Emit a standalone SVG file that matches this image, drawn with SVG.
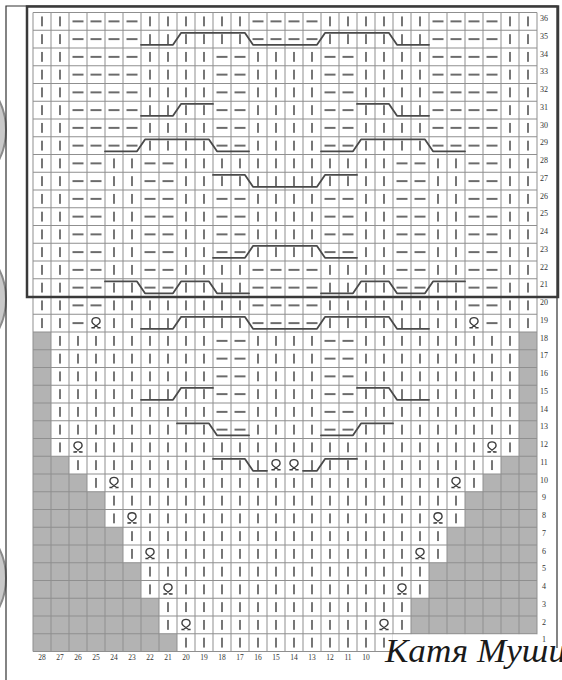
<svg xmlns="http://www.w3.org/2000/svg" width="562" height="680" viewBox="0 0 562 680">
<style>
.grid{fill:none;stroke:#8f8f8f;stroke-width:1}
.grey{fill:#b3b3b3}
.cable{fill:none;stroke:#4a4a4a;stroke-width:1.8;stroke-linejoin:round;stroke-linecap:round}
.sym{fill:none;stroke:#3c3c3c;stroke-width:1.3}
.rn{font-family:"Liberation Serif","DejaVu Serif",serif;font-size:8px;fill:#333;text-anchor:middle}
.cn{font-family:"Liberation Serif","DejaVu Serif",serif;font-size:7.5px;fill:#333;text-anchor:middle}
.hole{fill:#c9c9c9;stroke:#8a8a8a;stroke-width:2}
.border{fill:none;stroke:#333;stroke-width:1.2}
</style>
<defs>
<pattern id="knit" patternUnits="userSpaceOnUse" x="33" y="12.5" width="18" height="17.75">
<rect width="18" height="17.75" fill="#fff"/>
<line x1="9" y1="4" x2="9" y2="13.75" stroke="#3c3c3c" stroke-width="1.4"/>
</pattern>
<pattern id="purl" patternUnits="userSpaceOnUse" x="33" y="12.5" width="18" height="17.75">
<rect width="18" height="17.75" fill="#fff"/>
<line x1="3.5" y1="8.875" x2="14.5" y2="8.875" stroke="#3c3c3c" stroke-width="1.5"/>
</pattern>
<g id="tw">
<rect x="-8.5" y="-8.4" width="17" height="16.8" fill="#fff"/>
<path class="sym" d="M-2.2,1.2 C-5.2,-0.8 -4.6,-5.6 0,-5.6 C4.6,-5.6 5.2,-0.8 2.2,1.2 M-2.2,1.2 L2.6,4.6 M2.2,1.2 L-2.6,4.6 M-4.6,4.6 H-1.2 M1.2,4.6 H4.6"/>
</g>
</defs>
<rect width="562" height="680" fill="#fff"/>
<g id="binder-holes">
<circle class="hole" cx="-60" cy="130" r="66"/>
<circle class="hole" cx="-60" cy="299" r="66"/>
<circle class="hole" cx="-60" cy="578" r="66"/>
</g>
<g id="chart">
<rect x="33" y="12.5" width="504" height="639" fill="url(#knit)"/>
<g id="purls" fill="url(#purl)">
<rect x="69" y="12.5" width="18" height="319.5"/>
<rect x="87" y="12.5" width="18" height="301.75"/>
<rect x="105" y="12.5" width="36" height="142"/>
<rect x="483" y="12.5" width="18" height="319.5"/>
<rect x="465" y="12.5" width="18" height="301.75"/>
<rect x="429" y="12.5" width="36" height="142"/>
<rect x="141" y="154.5" width="36" height="142"/>
<rect x="393" y="154.5" width="36" height="142"/>
<rect x="213" y="48" width="36" height="106.5"/>
<rect x="213" y="190" width="36" height="71"/>
<rect x="213" y="332" width="36" height="106.5"/>
<rect x="321" y="48" width="36" height="106.5"/>
<rect x="321" y="190" width="36" height="71"/>
<rect x="321" y="332" width="36" height="106.5"/>
<rect x="249" y="12.5" width="72" height="35.5"/>
<rect x="249" y="261" width="72" height="71"/>
</g>
<g id="no-stitch">
<polygon class="grey" points="33,332 51,332 51,456.25 69,456.25 69,474 87,474 87,491.75 105,491.75 105,527.25 123,527.25 123,562.75 141,562.75 141,598.25 159,598.25 159,633.75 177,633.75 177,651.5 33,651.5"/>
<polygon class="grey" points="537,332 519,332 519,456.25 501,456.25 501,474 483,474 483,491.75 465,491.75 465,527.25 447,527.25 447,562.75 429,562.75 429,598.25 411,598.25 411,633.75 393,633.75 393,651.5 537,651.5"/>
</g>
<g id="twisted">
<use href="#tw" x="96" y="323.125"/><use href="#tw" x="474" y="323.125"/>
<use href="#tw" x="78" y="447.375"/><use href="#tw" x="492" y="447.375"/>
<use href="#tw" x="276" y="465.125"/><use href="#tw" x="294" y="465.125"/>
<use href="#tw" x="114" y="482.875"/><use href="#tw" x="456" y="482.875"/>
<use href="#tw" x="132" y="518.375"/><use href="#tw" x="438" y="518.375"/>
<use href="#tw" x="150" y="553.875"/><use href="#tw" x="420" y="553.875"/>
<use href="#tw" x="168" y="589.375"/><use href="#tw" x="402" y="589.375"/>
<use href="#tw" x="186" y="624.875"/><use href="#tw" x="384" y="624.875"/>
</g>
<path class="grid" d="M33 12.5V651.5M51 12.5V651.5M69 12.5V651.5M87 12.5V651.5M105 12.5V651.5M123 12.5V651.5M141 12.5V651.5M159 12.5V651.5M177 12.5V651.5M195 12.5V651.5M213 12.5V651.5M231 12.5V651.5M249 12.5V651.5M267 12.5V651.5M285 12.5V651.5M303 12.5V651.5M321 12.5V651.5M339 12.5V651.5M357 12.5V651.5M375 12.5V651.5M393 12.5V651.5M411 12.5V651.5M429 12.5V651.5M447 12.5V651.5M465 12.5V651.5M483 12.5V651.5M501 12.5V651.5M519 12.5V651.5M537 12.5V651.5M33 12.5H537M33 30.25H537M33 48H537M33 65.75H537M33 83.5H537M33 101.25H537M33 119H537M33 136.75H537M33 154.5H537M33 172.25H537M33 190H537M33 207.75H537M33 225.5H537M33 243.25H537M33 261H537M33 278.75H537M33 296.5H537M33 314.25H537M33 332H537M33 349.75H537M33 367.5H537M33 385.25H537M33 403H537M33 420.75H537M33 438.5H537M33 456.25H537M33 474H537M33 491.75H537M33 509.5H537M33 527.25H537M33 545H537M33 562.75H537M33 580.5H537M33 598.25H537M33 616H537M33 633.75H537M33 651.5H537"/>
</g>
<g id="cables">
<polyline class="cable" points="141,44.85 173,44.85 181,32.95 245,32.95 253,44.85 317,44.85 325,32.95 389,32.95 397,44.85 429,44.85"/>
<polyline class="cable" points="141,115.85 173,115.85 181,103.95 213,103.95"/>
<polyline class="cable" points="357,103.95 389,103.95 397,115.85 429,115.85"/>
<polyline class="cable" points="105,151.35 137,151.35 145,139.45 209,139.45 217,151.35 249,151.35"/>
<polyline class="cable" points="321,151.35 353,151.35 361,139.45 425,139.45 433,151.35 465,151.35"/>
<polyline class="cable" points="213,174.95 245,174.95 253,186.85 317,186.85 325,174.95 357,174.95"/>
<polyline class="cable" points="213,257.85 245,257.85 253,245.95 317,245.95 325,257.85 357,257.85"/>
<polyline class="cable" points="105,281.45 137,281.45 145,293.35 173,293.35 181,281.45 209,281.45 217,293.35 249,293.35"/>
<polyline class="cable" points="321,293.35 353,293.35 361,281.45 389,281.45 397,293.35 425,293.35 433,281.45 465,281.45"/>
<polyline class="cable" points="141,328.85 173,328.85 181,316.95 245,316.95 253,328.85 317,328.85 325,316.95 389,316.95 397,328.85 429,328.85"/>
<polyline class="cable" points="141,399.85 173,399.85 181,387.95 213,387.95"/>
<polyline class="cable" points="357,387.95 389,387.95 397,399.85 429,399.85"/>
<polyline class="cable" points="177,423.45 209,423.45 217,435.35 249,435.35"/>
<polyline class="cable" points="321,435.35 353,435.35 361,423.45 393,423.45"/>
<polyline class="cable" points="213,458.95 245,458.95 253,470.85 267,470.85"/>
<polyline class="cable" points="303,470.85 317,470.85 325,458.95 357,458.95"/>
</g>
<g id="borders">
<path class="border" d="M6 680V6H557V648"/>
<rect x="27" y="6.5" width="531" height="290.5" fill="none" stroke="#3a3a3a" stroke-width="2.5"/>
</g>
<g id="row-numbers">
<text class="rn" x="544" y="21">36</text>
<text class="rn" x="544" y="38.75">35</text>
<text class="rn" x="544" y="56.5">34</text>
<text class="rn" x="544" y="74.25">33</text>
<text class="rn" x="544" y="92">32</text>
<text class="rn" x="544" y="109.75">31</text>
<text class="rn" x="544" y="127.5">30</text>
<text class="rn" x="544" y="145.25">29</text>
<text class="rn" x="544" y="163">28</text>
<text class="rn" x="544" y="180.75">27</text>
<text class="rn" x="544" y="198.5">26</text>
<text class="rn" x="544" y="216.25">25</text>
<text class="rn" x="544" y="234">24</text>
<text class="rn" x="544" y="251.75">23</text>
<text class="rn" x="544" y="269.5">22</text>
<text class="rn" x="544" y="287.25">21</text>
<text class="rn" x="544" y="305">20</text>
<text class="rn" x="544" y="322.75">19</text>
<text class="rn" x="544" y="340.5">18</text>
<text class="rn" x="544" y="358.25">17</text>
<text class="rn" x="544" y="376">16</text>
<text class="rn" x="544" y="393.75">15</text>
<text class="rn" x="544" y="411.5">14</text>
<text class="rn" x="544" y="429.25">13</text>
<text class="rn" x="544" y="447">12</text>
<text class="rn" x="544" y="464.75">11</text>
<text class="rn" x="544" y="482.5">10</text>
<text class="rn" x="544" y="500.25">9</text>
<text class="rn" x="544" y="518">8</text>
<text class="rn" x="544" y="535.75">7</text>
<text class="rn" x="544" y="553.5">6</text>
<text class="rn" x="544" y="571.25">5</text>
<text class="rn" x="544" y="589">4</text>
<text class="rn" x="544" y="606.75">3</text>
<text class="rn" x="544" y="624.5">2</text>
<text class="rn" x="544" y="642.25">1</text>
</g>
<g id="column-numbers">
<text class="cn" x="42" y="659.5">28</text>
<text class="cn" x="60" y="659.5">27</text>
<text class="cn" x="78" y="659.5">26</text>
<text class="cn" x="96" y="659.5">25</text>
<text class="cn" x="114" y="659.5">24</text>
<text class="cn" x="132" y="659.5">23</text>
<text class="cn" x="150" y="659.5">22</text>
<text class="cn" x="168" y="659.5">21</text>
<text class="cn" x="186" y="659.5">20</text>
<text class="cn" x="204" y="659.5">19</text>
<text class="cn" x="222" y="659.5">18</text>
<text class="cn" x="240" y="659.5">17</text>
<text class="cn" x="258" y="659.5">16</text>
<text class="cn" x="276" y="659.5">15</text>
<text class="cn" x="294" y="659.5">14</text>
<text class="cn" x="312" y="659.5">13</text>
<text class="cn" x="330" y="659.5">12</text>
<text class="cn" x="348" y="659.5">11</text>
<text class="cn" x="366" y="659.5">10</text>
</g>
<g id="signature">
<rect x="392.5" y="634.3" width="145.5" height="18" fill="#fff"/>
<text x="385" y="662" font-family="'Liberation Serif','DejaVu Serif',serif" font-style="italic" font-size="34" fill="#1a1a1a" textLength="181" lengthAdjust="spacingAndGlyphs">Катя Муши</text>
</g>
</svg>
